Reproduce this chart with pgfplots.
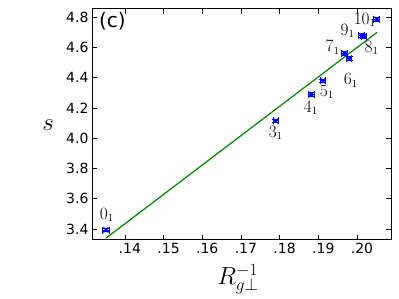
\documentclass[border=0pt]{standalone}
\usepackage{fontspec}
\setmainfont{DejaVu Sans}
\usepackage{pgfplots}
\pgfplotsset{compat=1.18}
\definecolor{mplgreen}{RGB}{0,128,0}
\begin{document}
\begin{tikzpicture}[x=1pt,y=1pt]
\path[use as bounding box] (0,0) rectangle (399,299);
\begin{axis}[
    at={(92pt,59pt)}, anchor=south west,
    width=299pt, height=231pt, scale only axis,
    xmin=0.1315, xmax=0.2088, ymin=3.327, ymax=4.853,
    xtick={0.14,0.15,0.16,0.17,0.18,0.19,0.20},
    xticklabels={.14,.15,.16,.17,.18,.19,.20},
    ytick={3.4,3.6,3.8,4.0,4.2,4.4,4.6,4.8},
    yticklabels={3.4,3.6,3.8,4.0,4.2,4.4,4.6,4.8},
    tick align=inside, major tick length=5pt,
    tick style={black, line width=0.6pt},
    axis line style={line width=1pt},
    tick label style={font=\fontsize{14}{16}\selectfont},
    x tick label style={xshift=5pt},
    xlabel={$R_{g\perp}^{-1}$},
    ylabel={$s$},
    label style={font=\fontsize{24}{26}\selectfont, inner sep=0pt},
    xlabel style={at={(axis description cs:0.488,-0.17)}, anchor=center},
    ylabel style={at={(axis description cs:-0.147,0.498)}, anchor=center, rotate=-90},
    clip=false,
]
\addplot[mplgreen, line width=1.2pt] coordinates {(0.1351,3.339) (0.2052,4.699)};
\addplot[blue, only marks, mark=x, mark size=3.5pt, line width=1.2pt,
    error bars/.cd, x dir=both, x explicit, y dir=both, y explicit,
    error mark options={rotate=90, mark size=3.5pt, blue, line width=1pt},
    error bar style={blue, line width=1pt}]
coordinates {
    (0.1351,3.393) +- (0.0008,0.012)
    (0.1790,4.114) +- (0.0007,0.012)
    (0.1882,4.288) +- (0.0007,0.012)
    (0.1912,4.378) +- (0.0007,0.012)
    (0.1980,4.525) +- (0.0007,0.012)
    (0.1968,4.560) +- (0.0007,0.012)
    (0.2018,4.673) +- (0.0007,0.012)
    (0.2012,4.677) +- (0.0007,0.012)
    (0.2051,4.785) +- (0.0007,0.012)
};
\node[font=\fontsize{16}{18}\selectfont] at (axis cs:0.13535,3.492) {$0_1$};
\node[font=\fontsize{16}{18}\selectfont] at (axis cs:0.1790,4.034) {$3_1$};
\node[font=\fontsize{16}{18}\selectfont] at (axis cs:0.1881,4.199) {$4_1$};
\node[font=\fontsize{16}{18}\selectfont] at (axis cs:0.1922,4.304) {$5_1$};
\node[font=\fontsize{16}{18}\selectfont] at (axis cs:0.1984,4.383) {$6_1$};
\node[font=\fontsize{16}{18}\selectfont] at (axis cs:0.1937,4.601) {$7_1$};
\node[font=\fontsize{16}{18}\selectfont] at (axis cs:0.2038,4.595) {$8_1$};
\node[font=\fontsize{16}{18}\selectfont] at (axis cs:0.1976,4.707) {$9_1$};
\node[font=\fontsize{16}{18}\selectfont] at (axis cs:0.2020,4.780) {$10_1$};
\node[anchor=north west, font=\fontsize{20}{22}\selectfont, inner sep=1pt] at (axis description cs:0.02,0.99) {(c)};
\end{axis}
\end{tikzpicture}
\end{document}
